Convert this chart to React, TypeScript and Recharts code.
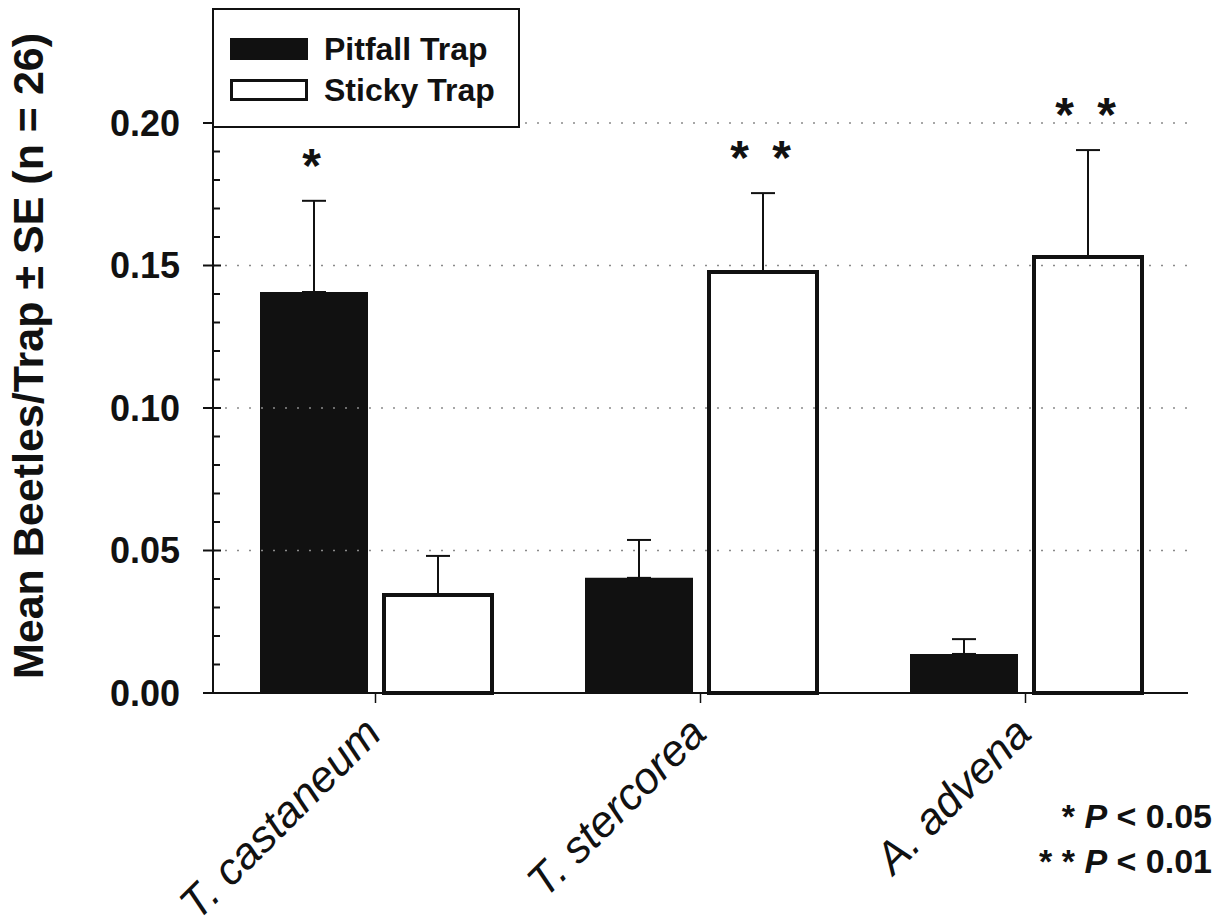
import { BarChart, Bar, XAxis, YAxis, ErrorBar, ReferenceLine, Legend, LabelList } from 'recharts'

const FONT = '"Liberation Sans", Arial, Helvetica, sans-serif'
const INK = '#111'

const species = ['T. castaneum', 'T. stercorea', 'A. advena']
const pitfallMean = [0.1407, 0.0404, 0.0137]
const pitfallSE = [0.032, 0.0133, 0.0052]
const stickyMean = [0.0344, 0.1477, 0.153]
const stickySE = [0.0137, 0.0277, 0.0375]
const pitfallSig = ['*', '', '']
const stickySig = ['', '* *', '* *']

const majorTicks = [0, 0.05, 0.1, 0.15, 0.2]
const allTicks = [
  0, 0.01, 0.02, 0.03, 0.04, 0.05, 0.06, 0.07, 0.08, 0.09, 0.1, 0.11, 0.12,
  0.13, 0.14, 0.15, 0.16, 0.17, 0.18, 0.19, 0.2, 0.21, 0.22, 0.23, 0.24,
]
const gridValues = [0.05, 0.1, 0.15, 0.2]

const data = species.map((name, i) => ({
  name,
  pitfall: pitfallMean[i],
  pitfallErr: [0, pitfallSE[i]],
  pitfallSig: pitfallSig[i],
  sticky: stickyMean[i],
  stickyErr: [0, stickySE[i]],
  stickySig: stickySig[i],
}))

const isMajor = (v: number) => majorTicks.some(m => Math.abs(m - v) < 1e-6)

function LeftTick({ x, y, payload }: any) {
  const v = payload.value as number
  if (isMajor(v)) {
    return (
      <g>
        <line x1={x - 10} x2={x + 8} y1={y} y2={y} stroke={INK} strokeWidth={2} />
        <text x={x - 33} y={y} textAnchor="end" dominantBaseline="central"
          fontFamily={FONT} fontWeight="bold" fontSize={36} fill={INK}>
          {v.toFixed(2)}
        </text>
      </g>
    )
  }
  if (v > 0.2) return null
  return <line x1={x} x2={x + 7} y1={y} y2={y} stroke={INK} strokeWidth={2} />
}

function RightTick({ x, y, payload }: any) {
  const v = payload.value as number
  const len = isMajor(v) ? 10 : 8
  return <line x1={x - len} x2={x} y1={y} y2={y} stroke={INK} strokeWidth={2} />
}

function SpeciesTick({ x, y, payload }: any) {
  return (
    <text transform={`translate(${x + 8}, ${y + 33}) rotate(-45)`} textAnchor="end"
      fontFamily={FONT} fontStyle="italic" fontSize={44} fill={INK}>
      {payload.value}
    </text>
  )
}

// significance stars sit a fixed gap above the top of the error bar
const sigLabel = (means: number[], ses: number[]) => (props: any) => {
  const { index, value } = props
  if (!value) return null
  const vb = props.viewBox ?? props
  const { x, y, width, height } = vb
  const pxPerUnit = Math.abs(height) / means[index]
  const errTop = y - ses[index] * pxPerUnit
  return (
    <text x={x + width / 2} y={errTop - 19} textAnchor="middle" letterSpacing={5}
      fontFamily={FONT} fontWeight="bold" fontSize={48} fill={INK}>
      {value}
    </text>
  )
}

function LegendBox() {
  const row = (top: number, filled: boolean, label: string) => (
    <div style={{ position: 'absolute', left: 16, top, display: 'flex', alignItems: 'center' }}>
      <div style={{
        width: 78, height: 22, boxSizing: 'border-box',
        background: filled ? INK : '#fff', border: `3px solid ${INK}`,
      }} />
      <span style={{ marginLeft: 16, fontSize: 32, fontWeight: 'bold', fontFamily: FONT, color: INK, lineHeight: '36px' }}>
        {label}
      </span>
    </div>
  )
  return (
    <div style={{
      position: 'relative', width: 308, height: 120, boxSizing: 'border-box',
      border: `2px solid ${INK}`, background: '#fff',
    }}>
      {row(21, true, 'Pitfall Trap')}
      {row(62, false, 'Sticky Trap')}
    </div>
  )
}

export default function App() {
  return (
    <div style={{ position: 'absolute', left: 0, top: 0, width: 1223, height: 923, background: '#fff' }}>
      <BarChart width={1223} height={923} data={data}
        margin={{ top: 9, right: 35, bottom: 0, left: 0 }}
        barCategoryGap="14%" barGap={16}>
        <XAxis dataKey="name" height={230} interval={0}
          axisLine={{ stroke: INK, strokeWidth: 2 }}
          tickLine={{ stroke: INK, strokeWidth: 1.5 }} tickSize={10} tickMargin={0}
          tick={<SpeciesTick />} />
        <XAxis xAxisId="top" orientation="top" dataKey="name" height={0}
          tick={false} tickLine={false} axisLine={{ stroke: INK, strokeWidth: 2 }} />
        <YAxis yAxisId="left" type="number" domain={[0, 0.24]} ticks={allTicks} interval={0}
          width={213} tickSize={0} tickMargin={0} tickLine={false}
          axisLine={{ stroke: INK, strokeWidth: 2 }} tick={<LeftTick />}
          label={{
            content: () => (
              <text transform="translate(28, 356) rotate(-90)" textAnchor="middle"
                dominantBaseline="central" fontFamily={FONT} fontWeight="bold" fontSize={43} fill={INK}>
                Mean Beetles/Trap ± SE (n = 26)
              </text>
            ),
          }} />
        <YAxis yAxisId="right" orientation="right" type="number" domain={[0, 0.24]}
          ticks={allTicks} interval={0} width={0} tickSize={0} tickMargin={0} tickLine={false}
          axisLine={{ stroke: INK, strokeWidth: 2 }} tick={<RightTick />} />
        {gridValues.map(v => (
          <ReferenceLine key={v} yAxisId="left" y={v} stroke="#8a8a8a"
            strokeDasharray="2 10" strokeWidth={1.5} />
        ))}
        <Legend layout="horizontal" verticalAlign="middle" align="center"
          wrapperStyle={{ left: 212, top: 8, width: 308, height: 120 }}
          content={<LegendBox />} />
        <Bar yAxisId="left" dataKey="pitfall" name="Pitfall Trap" fill={INK} barSize={108}
          isAnimationActive={false}>
          <ErrorBar dataKey="pitfallErr" width={12} stroke={INK} strokeWidth={2} direction="y" />
          <LabelList dataKey="pitfallSig" content={sigLabel(pitfallMean, pitfallSE)} />
        </Bar>
        <Bar yAxisId="left" dataKey="sticky" name="Sticky Trap" fill="#fff" stroke={INK}
          strokeWidth={4} barSize={108} isAnimationActive={false}>
          <ErrorBar dataKey="stickyErr" width={12} stroke={INK} strokeWidth={2} direction="y" />
          <LabelList dataKey="stickySig" content={sigLabel(stickyMean, stickySE)} />
        </Bar>
      </BarChart>
      <div style={{
        position: 'absolute', right: 11, top: 794, textAlign: 'right',
        fontFamily: FONT, fontWeight: 'bold', fontSize: 34, lineHeight: '45px', color: INK,
      }}>
        <div>* <i>P</i> &lt; 0.05</div>
        <div>* * <i>P</i> &lt; 0.01</div>
      </div>
    </div>
  )
}
